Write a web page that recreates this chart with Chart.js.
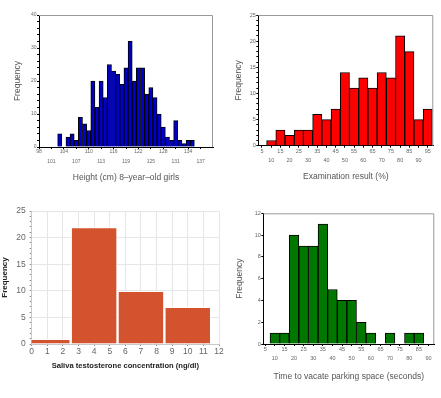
<!DOCTYPE html>
<html>
<head>
<meta charset="utf-8">
<script src="https://cdn.jsdelivr.net/npm/chart.js@4.4.1/dist/chart.umd.min.js"></script>
<style>
  body { margin: 0; background: #fff; width: 441px; height: 398px; position: relative; overflow: hidden; }
  canvas { position: absolute; }
</style>
</head>
<body>
<canvas id="c1" width="220" height="195" style="left:0;top:0"></canvas>
<canvas id="c2" width="221" height="195" style="left:220px;top:0"></canvas>
<canvas id="c3" width="230" height="203" style="left:0;top:195px"></canvas>
<canvas id="c4" width="216" height="203" style="left:225px;top:195px"></canvas>
<script>
// Height of 8-year-old girls, 1 cm bins (bin centres)
const heightBins = [103, 104, 105, 106, 107, 108, 109, 110, 111, 112, 113, 114, 115, 116, 117, 118, 119,
                    120, 121, 122, 123, 124, 125, 126, 127, 128, 129, 130, 131, 132, 133, 134, 135];
const heightFreq = [4, 0, 3, 4, 2, 9, 7, 5, 20, 12, 20, 15, 25, 23, 22, 19, 24,
                    32, 20, 24, 24, 16, 18, 15, 10, 6, 3, 2, 8, 2, 1, 2, 2];
const heightTicks = [98, 101, 104, 107, 110, 113, 116, 119, 122, 125, 128, 131, 134, 137];

// Examination result, 5 % bins
const examBins = [10, 15, 20, 25, 30, 35, 40, 45, 50, 55, 60, 65, 70, 75, 80, 85, 90, 95];
const examFreq = [1, 3, 2, 3, 3, 6, 5, 7, 14, 11, 13, 11, 14, 13, 21, 18, 5, 7];
const examTicks = [5, 10, 15, 20, 25, 30, 35, 40, 45, 50, 55, 60, 65, 70, 75, 80, 85, 90, 95];

// Saliva testosterone, 3 ng/dl bins
const salivaBins = [1, 4, 7, 10];
const salivaFreq = [1, 22, 10, 7];
const salivaTicks = [0, 1, 2, 3, 4, 5, 6, 7, 8, 9, 10, 11, 12];

// Time to vacate parking space, 5 s bins
const parkBins = [10, 15, 20, 25, 30, 35, 40, 45, 50, 55, 60, 65, 70, 75, 80, 85];
const parkFreq = [1, 1, 10, 9, 9, 11, 5, 4, 4, 2, 1, 0, 1, 0, 1, 1];
const parkTicks = [5, 10, 15, 20, 25, 30, 35, 40, 45, 50, 55, 60, 65, 70, 75, 80, 85, 90];

Chart.defaults.font.family = '"Liberation Sans", Arial, sans-serif';

// gray box line on top and right of the plot
const frame = {
  id: 'frame',
  afterDatasetsDraw(chart, args, opts) {
    if (!opts.color) return;
    const { ctx, chartArea: a } = chart;
    ctx.save();
    ctx.strokeStyle = opts.color;
    ctx.lineWidth = 1;
    ctx.beginPath();
    ctx.moveTo(a.left, a.top + 0.5);
    ctx.lineTo(a.right - 0.5, a.top + 0.5);
    ctx.lineTo(a.right - 0.5, a.bottom);
    ctx.stroke();
    ctx.restore();
  }
};

function histogram(id, o) {
  const canvas = document.getElementById(id);
  const W = canvas.width, H = canvas.height;
  return new Chart(canvas, {
    type: 'bar',
    data: {
      datasets: [{
        data: o.bins.map((b, i) => ({ x: b, y: o.freq[i] })),
        backgroundColor: o.color,
        borderColor: o.edge,
        borderWidth: o.edgeWidth,
        barPercentage: 1,
        // bar width = bin width, the ruler takes the smallest gap between ticks
        categoryPercentage: o.binPerTick || 1,
        clip: 0
      }]
    },
    options: {
      responsive: false,
      animation: false,
      layout: { padding: { top: o.area.top, right: W - o.area.right, left: 0, bottom: 0 } },
      plugins: { legend: { display: false }, tooltip: { enabled: false }, frame: { color: o.frame } },
      scales: {
        x: {
          type: 'linear',
          min: o.xMin,
          max: o.xMax,
          offset: false,
          afterFit: s => { s.height = H - o.area.bottom; },
          afterBuildTicks: s => { s.ticks = o.xTicks.map(v => ({ value: v })); },
          grid: {
            offset: false,
            drawOnChartArea: o.xGrid,
            color: '#e6e6e6',
            tickColor: o.tickColor,
            tickLength: 2
          },
          border: { color: o.axisColor },
          ticks: {
            autoSkip: false,
            maxRotation: 0,
            color: '#666',
            padding: o.xPad,
            font: { size: o.xFont, lineHeight: o.xLine },
            callback: (v, i) => o.stagger ? (i % 2 ? ['', String(v)] : [String(v), '']) : v
          },
          title: {
            display: true,
            text: o.xTitle,
            color: o.titleColor,
            font: { size: o.titleSize, weight: o.titleWeight },
            padding: { top: 0, bottom: o.xTitlePad }
          }
        },
        y: {
          min: 0,
          max: o.yMax,
          afterFit: s => { s.width = o.area.left; },
          grid: {
            drawOnChartArea: o.yGrid,
            color: c => c.tick && c.tick.value % o.yLabelEvery === 0 ? '#e6e6e6' : 'rgba(0,0,0,0)',
            tickColor: o.tickColor,
            tickLength: 2
          },
          border: { color: o.axisColor },
          ticks: {
            stepSize: o.yStep,
            autoSkip: false,
            color: '#666',
            padding: o.yPad,
            font: { size: o.yFont },
            callback: v => v % o.yLabelEvery === 0 ? v : ''
          },
          title: {
            display: true,
            text: 'Frequency',
            color: o.titleColor,
            font: { size: o.yTitleSize, weight: o.titleWeight },
            padding: { top: o.yTitlePad, bottom: 0 }
          }
        }
      }
    },
    plugins: [frame]
  });
}

const spss = {
  edge: '#000', edgeWidth: 1, frame: '#999', xGrid: false, yGrid: false,
  tickColor: '#000', axisColor: '#000', titleColor: '#555', titleSize: 8.5, yTitleSize: 8.5,
  titleWeight: 'normal', stagger: true
};

histogram('c1', Object.assign({}, spss, {
  bins: heightBins, freq: heightFreq, xTicks: heightTicks, color: '#0000c8',
  area: { left: 39, right: 213, top: 15, bottom: 147 },
  xMin: 98, xMax: 140, yMax: 40, yStep: 2, yLabelEvery: 10,
  xFont: 5, xLine: '10px', xPad: -2.4, yFont: 5, yPad: 0.5,
  xTitle: 'Height (cm) 8\u2013year\u2013old girls', xTitlePad: 11.9, yTitlePad: 12.9
}));

histogram('c2', Object.assign({}, spss, {
  bins: examBins, freq: examFreq, xTicks: examTicks, color: '#ff0000',
  area: { left: 38.3, right: 213.3, top: 15, bottom: 145.7 },
  xMin: 3, xMax: 98, yMax: 25, yStep: 1, yLabelEvery: 5,
  xFont: 5.5, xLine: '8.6px', xPad: -0.4, yFont: 5.5, yPad: 0.5,
  xTitle: 'Examination result (%)', xTitlePad: 12.9, yTitlePad: 13.9
}));

histogram('c3', {
  bins: salivaBins, freq: salivaFreq, xTicks: salivaTicks, color: '#d4532f', binPerTick: 3,
  edge: '#fff', edgeWidth: 1.2, frame: null, xGrid: true, yGrid: true,
  tickColor: '#888', axisColor: '#c8c8c8', titleColor: '#222', titleSize: 7.6, yTitleSize: 8,
  titleWeight: 'bold', stagger: false,
  area: { left: 31.7, right: 219, top: 16, bottom: 149 },
  xMin: 0, xMax: 12, yMax: 25, yStep: 1, yLabelEvery: 5,
  xFont: 8.5, xLine: 1.2, xPad: 0.5, yFont: 8.5, yPad: 4,
  xTitle: 'Saliva testosterone concentration (ng/dl)', xTitlePad: 27.5, yTitlePad: 0.2
});

histogram('c4', Object.assign({}, spss, {
  bins: parkBins, freq: parkFreq, xTicks: parkTicks, color: '#007800',
  area: { left: 38.3, right: 209.3, top: 18.3, bottom: 149 },
  xMin: 4, xMax: 93, yMax: 12, yStep: 2, yLabelEvery: 2,
  xFont: 5.5, xLine: '9px', xPad: -0.8, yFont: 5.5, yPad: 0.5,
  xTitle: 'Time to vacate parking space (seconds)', xTitlePad: 15.9, yTitlePad: 9.9
}));
</script>
</body>
</html>
